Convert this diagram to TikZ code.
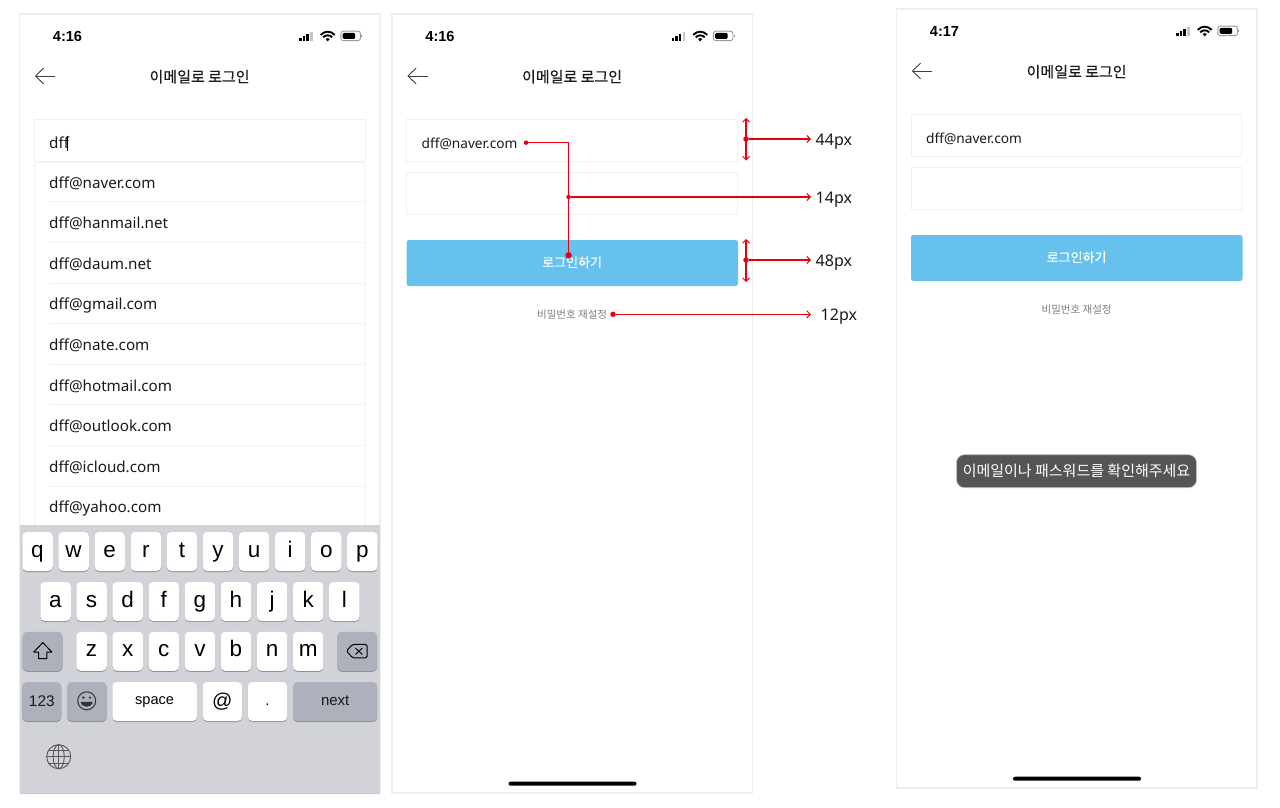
\documentclass[tikz,border=0pt]{standalone}
\usepackage{fontspec}
\usetikzlibrary{arrows.meta,calc}
\setmainfont{Noto Sans}
\newfontfamily\krfont{Noto Sans CJK KR}
\newfontfamily\krmed[FakeBold=0.4]{Noto Sans CJK KR}
\newfontfamily\timefont{Liberation Sans}
\newfontfamily\uifont{Noto Sans}
\newfontfamily\keyfont{Liberation Sans}
\definecolor{framec}{HTML}{EEEEEE}
\definecolor{fieldc}{HTML}{F0F0F0}
\definecolor{sepc}{HTML}{F3F3F3}
\definecolor{btnc}{HTML}{66C2EC}
\definecolor{kbc}{HTML}{D1D3D9}
\definecolor{keyd}{HTML}{ACB1BB}
\definecolor{keysh}{HTML}{8E9196}
\definecolor{redc}{HTML}{E60012}
\definecolor{toastc}{HTML}{555555}
\definecolor{ink}{HTML}{1A1A1A}
\newcommand{\fs}[1]{\fontsize{#1}{#1}\selectfont}
\tikzset{
  x=1pt,y=-1pt,
  frame/.style={draw=framec,line width=1.2,fill=white,outer sep=0},
  field/.style={draw=fieldc,line width=1,fill=white,outer sep=0},
  timetxt/.style={font=\timefont\bfseries\fs{14.6},text=black,inner sep=0},
  titletxt/.style={font=\krmed\fs{15},text=ink,inner sep=0},
  itemtxt/.style={font=\uifont\fs{15.2},text=ink,inner sep=0,anchor=base west},
  mailtxt/.style={font=\uifont\fs{13.7},text=ink,inner sep=0,anchor=base west},
  btntxt/.style={font=\krmed\fs{13},text=white,inner sep=0},
  resettxt/.style={font=\krfont\fs{10.5},text=black!50,inner sep=0},
  keybase/.style={inner sep=0,rounded corners=4.5,text=black,
     preaction={fill=keysh,transform canvas={yshift=-1pt}}},
  lkey/.style={keybase,fill=white,minimum width=30.5,minimum height=39,
     font=\keyfont\fs{22.5},text height=11,text depth=0},
  dkey/.style={keybase,fill=keyd},
  redl/.style={draw=redc,line width=1.05},
  redarrow/.style={redl,-{Straight Barb[length=3.5,width=7,line width=1]}},
  reddouble/.style={redl,{Straight Barb[length=3.5,width=7,line width=1]}-{Straight Barb[length=3.5,width=7,line width=1]}},
  reddot/.style={circle,fill=redc,inner sep=0,minimum size=#1},
  dimtxt/.style={font=\uifont\fs{16},text=ink,inner sep=0,anchor=base west},
}
% common header of a phone screen: #1 prefix, #2 time
\newcommand{\phoneframe}[2]{
  \node[frame,inner sep=0,minimum width=360.5,minimum height=779,anchor=north west] (#1frame) at (19.5,14) {};
  \node[timetxt] (#1time) at (67.5,36) {#2};
  % signal
  \fill[black] (299.2,38.2) rectangle (301.7,41.2);
  \fill[black] (302.8,36.4) rectangle (305.3,41.2);
  \fill[black] (306.4,34) rectangle (308.9,41.2);
  \fill[black!22] (310,32) rectangle (312.5,41.2);
  % wifi
  \begin{scope}[line width=1.9,draw=black]
    \draw (320.7,34.9) .. controls (324.5,30.6) and (330.9,30.6) .. (334.7,34.9);
    \draw (323.2,37.3) .. controls (325.6,34.7) and (329.8,34.7) .. (332.2,37.3);
    \fill[black] (325.5,38.9) -- (327.7,41.4) -- (329.9,38.9) .. controls (328.8,37.9) and (326.6,37.9) .. (325.5,38.9) -- cycle;
  \end{scope}
  % battery
  \draw[black!40,line width=.9,rounded corners=2.5] (340.8,31.2) rectangle (360.5,40.6);
  \fill[black,rounded corners=1.2] (342.7,33) rectangle (355.2,38.8);
  \fill[black!40] (361.4,34.6) rectangle (362.4,37.2);
  % back arrow
  \draw[black!75,line width=.9] (55,76) -- (35.5,76);
  \draw[black!75,line width=.9] (43.5,68.2) -- (35.5,76) -- (43.5,83.8);
  \node[titletxt] (#1title) at (199.6,76.7) {이메일로 로그인};
  \fill[black,rounded corners=2] (136,781.7) rectangle (264,785.7);
}
% login form (fields, button, reset link)
\newcommand{\loginform}[2]{
  \node[field,inner sep=0,minimum width=330.5,minimum height=41.5,anchor=north west] (#1mail) at (34.2,119.5) {};
  \node[field,inner sep=0,minimum width=330.5,minimum height=41.5,anchor=north west] (#1pass) at (34.2,172.5) {};
  \node[mailtxt] (#1mailtxt) at (49,148.4) {#2};
  \node[fill=btnc,rounded corners=2.5,inner sep=0,outer sep=0,minimum width=331.5,minimum height=46,anchor=north west] (#1btn) at (34,240) {};
  \node[btntxt] (#1btntxt) at (199.6,262.3) {로그인하기};
  \node[resettxt] (#1reset) at (199.6,314.4) {비밀번호 재설정};
}
\begin{document}
\begin{tikzpicture}
\useasboundingbox (0,0) rectangle (1280,808);
\fill[white] (0,0) rectangle (1280,808);

%%% ---------- phone 1
\begin{scope}
\phoneframe{a}{4:16}
\node[field,inner sep=0,minimum width=330.5,minimum height=41.5,anchor=north west] (amail) at (34.5,119.5) {};
\node[itemtxt] (amailtxt) at (49,148.3) {dff};
\draw[black,line width=1] (67,135.5) -- (67,151);
\draw[fieldc,line width=1,fill=white,rounded corners=6] (34.5,530) -- (34.5,161.8) -- (365,161.8) -- (365,530);
\foreach \t [count=\i from 0] in {dff@naver.com,dff@hanmail.net,dff@daum.net,dff@gmail.com,dff@nate.com,dff@hotmail.com,dff@outlook.com,dff@icloud.com,dff@yahoo.com}{
  \node[itemtxt] (item\i) at (49,{188+40.62*\i}) {\t};
  \ifnum\i<8 \draw[sepc,line width=1] (49,{201.8+40.62*\i}) -- (365,{201.8+40.62*\i}); \fi
}
% keyboard
\fill[kbc] (19.5,524.5) rectangle (380,793);
\draw[black!22,line width=.6] (19.5,793) -- (380,793);
\foreach \t [count=\i from 0] in {q,w,e,r,t,y,u,i,o,p}
  \node[lkey] (kq\i) at ({37.5+36.1*\i},551.5) {\t};
\foreach \t [count=\i from 0] in {a,s,d,f,g,h,j,k,l}
  \node[lkey] (ka\i) at ({55.5+36.1*\i},601.5) {\t};
\foreach \t [count=\i from 0] in {z,x,c,v,b,n,m}
  \node[lkey] (kz\i) at ({91.6+36.1*\i},651.3) {\t};
\node[dkey,minimum width=40,minimum height=39] (kshift) at (42.6,651.3) {};
\draw[black,line width=1,line join=round] (42.8,642.6) -- (33.8,652) -- (38.7,652) -- (38.7,658.6) -- (46.9,658.6) -- (46.9,652) -- (51.8,652) -- cycle;
\node[dkey,minimum width=40,minimum height=39] (kback) at (357.2,651.3) {};
\draw[black,line width=1,line join=round,rounded corners=1.5] (346.5,651) -- (352.5,644.4) -- (367,644.4) -- (367,657.8) -- (352.5,657.8) -- cycle;
\draw[black,line width=.9] (355.5,648) -- (362.3,654.5) (362.3,648) -- (355.5,654.5);
\node[dkey,minimum width=39,minimum height=39,font=\keyfont\fs{15.4},text=ink] (k123) at (41.8,701.5) {123};
\node[dkey,minimum width=39.6,minimum height=39] (kemoji) at (86.8,701.5) {};
\draw[black!80,line width=1] (86.7,700.8) circle (9);
\fill[black!80] (83.4,697.6) circle (1.3) (90,697.6) circle (1.3);
\fill[black!80] (80.6,701.8) .. controls (82,708.4) and (91.4,708.4) .. (92.8,701.8) -- cycle;
\node[lkey,minimum width=84.7,font=\keyfont\fs{14.6},text height=6,text depth=-6] (kspace) at (154.6,701.5) {space};
\node[lkey,minimum width=39.5,font=\keyfont\fs{20}] (kat) at (222.3,701.5) {@};
\node[lkey,minimum width=39.5,font=\keyfont\fs{15},text height=8] (kdot) at (267.5,701.5) {.};
\node[dkey,minimum width=84,minimum height=39,font=\keyfont\fs{15},text=ink,text height=8,text depth=-2] (knext) at (335.2,701.5) {next};
% globe
\begin{scope}[draw=black!65,line width=.9]
\draw (58.7,756.7) circle (12);
\draw (58.7,756.7) ellipse (5.6 and 12);
\draw (58.7,744.7) -- (58.7,768.7) (46.7,756.7) -- (70.7,756.7);
\draw (48.3,750) -- (69.1,750) (48.3,763.4) -- (69.1,763.4);
\end{scope}
\end{scope}

%%% ---------- phone 2
\begin{scope}[shift={(372.5,0)}]
\phoneframe{b}{4:16}
\loginform{b}{dff@naver.com}
\end{scope}

%%% ---------- phone 3
\begin{scope}[shift={(877,-5)}]
\phoneframe{c}{4:17}
\loginform{c}{dff@naver.com}
\node[draw=black!25,fill=toastc,rounded corners=8,line width=.6,inner sep=0,minimum width=240,minimum height=33,
      font=\krfont\fs{15},text=white] (toast) at (199.5,476.2) {이메일이나 패스워드를 확인해주세요};
\end{scope}

%%% ---------- annotations
\node[reddot=4.5] (d1) at (526,142.7) {};
\coordinate (bend) at (568.6,142.7);
\node[reddot=6.5] (d2) at (568.6,255.3) {};
\node[reddot=4.5] (d3) at (568.6,197) {};
\node[dimtxt] (l14) at (815.5,203) {14px};
\coordinate (e14) at (811,197);
\draw[redl] (d1) -- (bend) -- (d2);
\draw[redarrow] (d3) -- (e14);

\coordinate (v44a) at (746,118);
\coordinate (v44b) at (746,160.5);
\node[reddot=5.5] (d44) at (746,139) {};
\draw[reddouble] (v44a) -- (v44b);
\coordinate (e44) at (811,139);
\draw[redarrow] (d44) -- (e44);
\node[dimtxt] (l44) at (815.5,145) {44px};

\coordinate (v48a) at (746,239);
\coordinate (v48b) at (746,282);
\node[reddot=5.5] (d48) at (746,260) {};
\draw[reddouble] (v48a) -- (v48b);
\coordinate (e48) at (811,260);
\draw[redarrow] (d48) -- (e48);
\node[dimtxt] (l48) at (815.5,266) {48px};

\node[reddot=5.5] (d12) at (613,314.3) {};
\coordinate (e12) at (811,314.3);
\draw[redarrow] (d12) -- (e12);
\node[dimtxt] (l12) at (820.5,320.3) {12px};
\end{tikzpicture}
\end{document}
